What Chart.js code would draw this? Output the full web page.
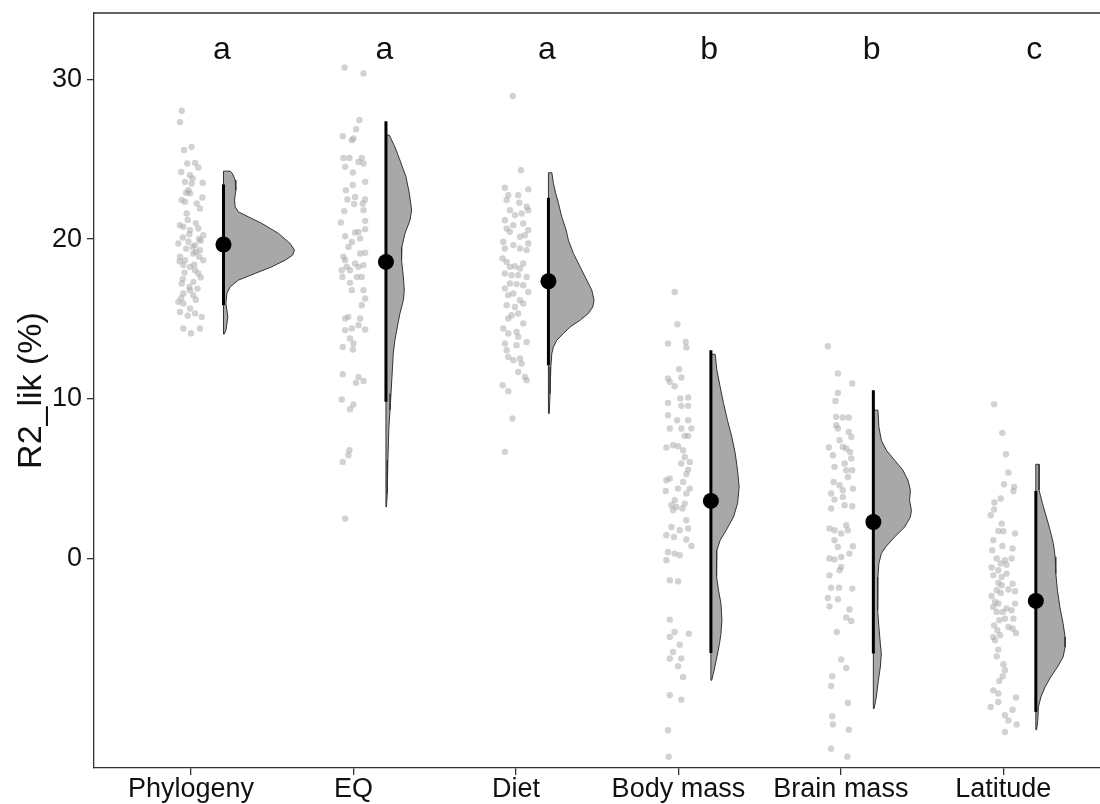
<!DOCTYPE html>
<html>
<head>
<meta charset="utf-8">
<script src="https://cdn.jsdelivr.net/npm/chart.js@4.4.0/dist/chart.umd.min.js"></script>
<style>
  body { margin: 0; background: #fff; }
  #wrap { width: 1100px; height: 804px; overflow: hidden; }
</style>
</head>
<body>
<div id="wrap"><canvas id="myChart" width="1100" height="804"></canvas></div>
<script>
// categories on the x axis, and the letters drawn above each group
const categories = ['Phylogeny', 'EQ', 'Diet', 'Body mass', 'Brain mass', 'Latitude'];
const letters = ['a', 'a', 'a', 'b', 'b', 'c'];
const yTicks = [0, 10, 20, 30];

// mean and interval per group
const means = [19.66, 18.57, 17.36, 3.61, 2.29, -2.65];
const lower = [15.86, 9.81, 12.10, -5.91, -5.95, -9.60];
const upper = [23.42, 27.38, 22.58, 13.04, 10.54, 4.23];

// raw points: [jitter, value]
const phylogenyPts = [[-.057,28.03],[-.068,27.32],[-.043,25.57],[.004,25.77],[-.023,24.73],[.025,24.77],[.045,24.48],[-.006,24.00],
  [-.037,23.58],[.004,23.48],[.072,23.52],[-.016,23.06],[-.006,22.86],[-.057,22.44],[-.037,22.33],[.035,22.23],[.055,21.92],
  [-.027,21.60],[-.068,20.87],[-.047,20.77],[-.006,20.56],[.045,20.66],[.076,20.24],[-.078,19.72],[-.016,19.83],[.025,19.62],
  [.055,19.31],[.014,19.10],[-.068,18.89],[-.037,18.68],[.076,18.68],[-.006,18.26],[.025,18.05],[-.047,18.37],[.045,17.85],
  [.014,17.32],[-.057,17.22],[-.006,16.80],[-.047,16.59],[.014,16.49],[-.078,16.07],[-.047,15.97],[-.006,15.65],[-.068,15.44],
  [.025,15.34],[.066,15.13],[-.047,14.40],[.055,14.40],[-.02,21.2],[.03,21.0],[-.05,20.1],[.06,19.9],[-.03,19.4],[.01,19.5],
  [.05,18.9],[-.07,18.6],[.02,18.4],[-.04,17.9],[.06,17.6],[-.01,17.0],[.04,16.9],[-.06,16.3],[.03,16.2],[-.02,15.2],
  [.07,22.6],[-.03,22.9],[.01,23.8],[-.06,24.2],[.05,20.0],[-.01,20.3],[.03,19.2],[-.05,17.5],[0,14.1]];
const eqPts = [[-.055,30.74],[.062,30.37],[.037,27.45],[.016,26.88],[-.066,26.44],[-.010,26.19],[0,26.30],[-.062,25.08],
  [-.025,25.08],[.051,25.08],[-.051,24.52],[.031,24.83],[.062,24.73],[-.004,24.17],[.072,23.58],[-.004,23.38],[-.047,23.06],
  [-.037,22.48],[.010,22.64],[.004,22.19],[.057,22.23],[.072,22.48],[-.057,21.75],[.062,21.81],[-.078,21.04],[.072,21.14],
  [.010,20.41],[.031,20.45],[.072,20.62],[-.051,20.18],[.041,20.04],[-.010,19.82],[-.031,19.51],[-.062,18.89],[-.051,18.68],
  [.072,19.14],[.041,19.10],[.010,18.47],[-.041,18.26],[-.072,18.05],[-.021,18.05],[.031,18.26],[.062,18.37],[.051,17.63],
  [.021,17.63],[-.068,17.63],[-.021,17.26],[-.010,16.80],[.062,16.80],[.072,16.28],[.051,15.86],[-.051,15.03],[-.031,15.13],
  [.041,15.03],[.031,14.61],[-.010,14.40],[-.051,14.30],[.072,14.34],[-.021,13.78],[0,13.46],[-.004,13.09],[-.066,13.25],
  [-.066,11.54],[.031,11.37],[.062,11.12],[.016,11.00],[-.072,9.96],[0,9.64],[-.021,9.35],[-.025,6.78],[-.031,6.47],
  [-.066,6.05],[-.051,2.50]];
const dietPts = [[-.02,28.95],[.031,24.31],[-.068,23.21],[.076,23.11],[-.047,22.75],[.014,22.75],[-.057,22.44],[.021,22.27],
  [.066,22.02],[.076,21.81],[-.037,21.81],[-.006,21.50],[.035,21.60],[-.068,21.18],[-.057,20.66],[-.016,20.87],[.045,20.98],
  [.076,20.56],[-.037,20.45],[.025,20.14],[.055,20.24],[-.078,19.83],[-.068,19.41],[-.016,19.62],[.025,19.41],[.076,19.72],
  [.066,19.31],[-.082,18.79],[-.057,18.57],[-.037,18.26],[-.006,18.30],[.025,18.16],[.045,18.47],[-.068,17.85],[-.027,17.74],
  [.014,17.74],[.066,17.63],[-.037,17.22],[.004,17.18],[.045,17.11],[-.068,16.91],[-.047,16.49],[-.016,16.59],[.076,16.69],
  [.025,16.17],[-.057,15.86],[-.006,15.75],[.045,15.97],[-.027,15.23],[-.047,15.03],[.014,15.34],[.045,14.72],[-.078,14.40],
  [-.047,14.09],[.004,14.19],[.014,13.88],[.066,13.56],[-.068,13.46],[-.057,13.04],[.004,13.36],[-.047,12.62],[-.016,12.42],
  [.025,12.52],[.035,12.21],[.014,11.68],[.055,11.37],[.066,11.16],[-.082,10.85],[-.047,10.48],[-.021,8.77],[-.068,6.68]];
const bodyPts = [[-.023,16.69],[-.006,14.67],[-.064,13.46],[.045,13.56],[.049,13.21],[.004,11.85],[-.064,11.27],[.018,11.33],
  [-.023,10.79],[-.053,11.06],[-.064,9.74],[.012,10.02],[.060,10.08],[.060,9.56],[.018,9.56],[-.064,8.97],[-.008,8.66],
  [-.053,8.14],[.018,8.14],[.060,8.66],[.080,8.14],[.039,7.68],[.060,7.68],[-.074,6.95],[-.033,7.09],[-.002,7.03],[.029,6.78],
  [.039,6.36],[.018,5.95],[.070,6.05],[.060,5.57],[.049,5.28],[-.074,4.90],[-.053,5.01],[.029,4.80],[-.002,4.38],[.070,4.38],
  [-.078,4.23],[-.023,3.65],[.049,4.07],[-.012,3.23],[-.043,3.34],[-.033,3.02],[.039,3.44],[.025,3.13],[.049,2.40],[-.043,1.98],
  [.008,1.77],[.060,1.88],[-.074,1.46],[-.027,1.35],[.049,1.19],[.080,0.79],[-.064,0.41],[-.023,0.31],[.008,0.21],[-.074,-0.11],
  [-.053,-1.36],[-.002,-1.42],[-.053,-3.82],[-.023,-4.60],[.064,-4.70],[-.053,-4.91],[.008,-5.39],[-.033,-5.85],[-.053,-6.26],
  [.018,-6.26],[-.002,-6.74],[.029,-7.41],[-.053,-8.56],[.018,-8.83],[-.064,-10.75],[-.06,-12.4]];
const brainPts = [[-.080,13.29],[-.018,11.58],[.070,10.96],[-.018,10.37],[-.033,9.87],[-.029,8.87],[.012,8.83],[.049,8.83],
  [-.029,8.35],[-.018,8.14],[.049,7.93],[.064,7.61],[-.008,7.41],[-.074,6.95],[-.049,6.47],[.012,6.99],[.033,6.89],[.057,6.67],
  [-.039,5.74],[.023,5.95],[.064,6.26],[.033,5.53],[.070,5.53],[.043,5.11],[-.045,4.80],[-.008,4.59],[.012,4.28],[.074,4.38],
  [-.060,4.07],[-.039,3.69],[.012,3.86],[-.060,3.13],[.023,3.34],[.070,3.27],[-.070,1.88],[-.039,1.77],[.002,1.57],[.043,1.77],
  [.033,2.09],[-.039,1.15],[-.018,0.73],[.074,0.77],[-.070,0],[.002,0.10],[-.039,-0.06],[.053,0.31],[-.070,-1.05],[.002,-0.53],
  [-.008,-0.73],[-.060,-1.82],[-.012,-1.82],[.070,-1.88],[-.080,-2.47],[-.018,-2.55],[-.070,-2.99],[.053,-3.19],[.033,-3.69],
  [.064,-3.91],[-.025,-4.60],[.002,-6.32],[.033,-6.85],[-.053,-7.37],[-.060,-7.98],[.043,-9.04],[-.053,-9.87],[-.049,-10.38],
  [.049,-10.71],[-.06,-11.9],[.04,-12.4]];
const latitudePts = [[-.057,9.66],[-.006,7.87],[.016,6.53],[.031,5.39],[.004,4.65],[.066,4.48],[.062,4.21],[-.016,3.76],
  [-.055,3.51],[-.057,3.07],[-.078,2.71],[-.010,2.19],[-.031,1.73],[0,1.71],[.072,1.57],[-.062,1.15],[-.006,0.79],[.057,0.63],
  [-.068,0.52],[-.041,0],[.010,-0.11],[-.016,-0.31],[.051,0],[-.072,-0.56],[-.031,-0.73],[.020,-0.38],[-.062,-1.05],[-.010,-1.15],
  [.020,-0.94],[-.031,-1.53],[-.010,-1.67],[.057,-1.57],[-.072,-2.34],[-.041,-1.98],[.031,-1.94],[.072,-2.05],[-.016,-2.15],
  [-.051,-2.72],[-.031,-2.82],[.072,-2.82],[.020,-3.13],[.051,-3.24],[-.041,-3.34],[-.062,-3.03],[-.004,-3.34],[.062,-3.76],
  [.010,-3.76],[-.025,-3.86],[-.057,-4.18],[.031,-4.28],[.057,-4.38],[-.037,-4.49],[-.062,-4.91],[-.020,-4.80],[.078,-4.66],
  [-.051,-5.12],[-.031,-5.70],[-.041,-6.12],[0,-6.62],[.010,-6.99],[-.004,-7.37],[-.025,-7.66],[-.062,-8.25],[-.031,-8.45],
  [-.031,-8.98],[.078,-8.70],[-.078,-9.29],[.057,-9.46],[.010,-9.81],[.031,-10.13],[.082,-10.39],[.010,-10.86]];

// half-violin outlines: [value, half width]
const phylogenyViolin = [[24.25,.041],[24.11,.055],[23.69,.072],[23.06,.076],[22.44,.068],[22.02,.072],[21.70,.092],[21.39,.154],
  [20.98,.236],[20.35,.339],[19.72,.410],[19.31,.437],[18.99,.425],[18.68,.380],[18.26,.297],[17.85,.195],[17.43,.092],
  [17.01,.041],[16.59,.021],[15.97,.015],[15.13,.027],[14.30,.015],[14.05,.005]];
const eqViolin = [[26.51,.020],[25.77,.055],[24.94,.086],[23.90,.123],[22.86,.144],[21.81,.158],[21.18,.148],[20.35,.117],
  [19.51,.098],[18.68,.096],[17.63,.107],[16.80,.113],[16.17,.107],[15.34,.086],[14.50,.070],[13.67,.055],[12.84,.045],
  [11.37,.037],[10.33,.031],[9.29,.025],[8.24,.018],[6.16,.012],[4.07,.008],[3.23,.003]];
const dietViolin = [[24.15,.021],[23.48,.031],[22.86,.045],[22.23,.062],[21.39,.082],[20.56,.109],[19.93,.123],[19.10,.154],
  [18.26,.195],[17.43,.236],[16.80,.267],[16.17,.281],[15.75,.273],[15.34,.246],[14.92,.195],[14.50,.134],[14.09,.092],
  [13.67,.052],[13.25,.031],[12.84,.021],[12.00,.015],[10.33,.010],[9.08,.005]];
const bodyViolin = [[12.79,.026],[11.79,.037],[10.75,.057],[9.71,.078],[8.66,.102],[7.61,.129],[6.57,.150],[5.53,.164],
  [4.48,.174],[3.44,.164],[2.60,.139],[1.77,.094],[1.15,.057],[0.52,.037],[-0.11,.033],[-1.15,.037],[-1.98,.047],[-2.82,.062],
  [-3.86,.068],[-4.70,.062],[-5.32,.053],[-6.16,.037],[-6.99,.020],[-7.62,.005]];
const brainViolin = [[9.29,.028],[8.24,.034],[7.41,.049],[6.78,.080],[6.16,.131],[5.53,.182],[4.90,.213],[4.28,.228],
  [3.65,.223],[3.02,.234],[2.60,.228],[1.98,.193],[1.35,.131],[0.73,.076],[0.31,.049],[-0.31,.034],[-1.15,.028],[-2.19,.025],
  [-3.24,.028],[-4.28,.034],[-5.32,.043],[-5.95,.049],[-6.79,.043],[-7.62,.031],[-8.67,.018],[-9.39,.005]];
const latitudeViolin = [[5.90,.020],[5.11,.020],[4.28,.020],[3.44,.041],[2.60,.065],[1.77,.088],[0.94,.108],[0.10,.119],
  [-0.94,.123],[-1.98,.133],[-3.03,.148],[-4.07,.168],[-4.91,.180],[-5.54,.180],[-6.16,.168],[-6.79,.133],[-7.41,.092],
  [-8.04,.057],[-8.67,.031],[-9.29,.016],[-10.13,.012],[-10.71,.005]];

const allPts = [phylogenyPts, eqPts, dietPts, bodyPts, brainPts, latitudePts];
const allViolins = [phylogenyViolin, eqViolin, dietViolin, bodyViolin, brainViolin, latitudeViolin];

const nudge = 0.2;       // cloud, mean and interval sit right of the tick
const letterShift = 0.19;
const letterY = 31.25;
const FONT = '"Liberation Sans", Arial, Helvetica, sans-serif';

// build datasets
let datasets = [];

let rain = [];
allPts.forEach(function (pts, i) {
  pts.forEach(p => rain.push({ x: i + 1 + p[0], y: p[1] }));
});
datasets.push({
  type: 'scatter',
  data: rain,
  pointRadius: 3.2,
  pointBackgroundColor: 'rgba(165,165,165,0.5)',
  pointBorderWidth: 0,
  order: 4
});

allViolins.forEach(function (v, i) {
  const base = i + 1 + nudge;
  let shape = [{ x: base, y: v[0][0] }];
  v.forEach(d => shape.push({ x: base + d[1], y: d[0] }));
  shape.push({ x: base, y: v[v.length - 1][0] });
  shape.push({ x: base, y: v[0][0] });
  datasets.push({
    type: 'line',
    data: shape,
    borderColor: '#333',
    borderWidth: 1,
    backgroundColor: '#a8a8a8',
    fill: 'shape',
    pointRadius: 0,
    tension: 0,
    order: 3
  });
});

for (let i = 0; i < categories.length; i++) {
  datasets.push({
    type: 'line',
    data: [{ x: i + 1 + nudge, y: lower[i] }, { x: i + 1 + nudge, y: upper[i] }],
    borderColor: '#000',
    borderWidth: 3,
    pointRadius: 0,
    fill: false,
    order: 2
  });
}

datasets.push({
  type: 'scatter',
  data: means.map((m, i) => ({ x: i + 1 + nudge, y: m })),
  pointRadius: 8,
  pointBackgroundColor: '#000',
  pointBorderWidth: 0,
  order: 1
});

const lettersPlugin = {
  id: 'letters',
  afterDatasetsDraw(chart) {
    const { ctx, scales: { x, y }, chartArea } = chart;
    ctx.save();
    ctx.font = '32px ' + FONT;
    ctx.fillStyle = '#111';
    ctx.textAlign = 'center';
    ctx.textBaseline = 'alphabetic';
    letters.forEach((t, i) => ctx.fillText(t, x.getPixelForValue(i + 1 + letterShift), y.getPixelForValue(letterY)));
    // top edge of the panel box
    ctx.strokeStyle = '#333';
    ctx.lineWidth = 1.3;
    ctx.beginPath();
    ctx.moveTo(chartArea.left, chartArea.top);
    ctx.lineTo(chartArea.right, chartArea.top);
    ctx.stroke();
    ctx.restore();
  }
};

const ctx = document.getElementById('myChart').getContext('2d');
const myChart = new Chart(ctx, {
  type: 'scatter',
  data: { datasets: datasets },
  plugins: [lettersPlugin],
  options: {
    responsive: false,
    animation: false,
    layout: { autoPadding: false, padding: { top: 13, left: 0, right: 0, bottom: 0 } },
    plugins: { legend: { display: false }, tooltip: { enabled: false } },
    scales: {
      x: {
        type: 'linear',
        min: 0.403,
        max: 6.595,
        afterBuildTicks: s => { s.ticks = categories.map((c, i) => ({ value: i + 1 })); },
        afterFit: s => { s.height = 36; s.paddingLeft = 0; s.paddingRight = 0; },
        ticks: {
          callback: v => categories[v - 1],
          font: { family: FONT, size: 27, lineHeight: 1 },
          color: '#111',
          padding: 1,
          maxRotation: 0,
          autoSkip: false
        },
        grid: { drawOnChartArea: false, tickLength: 7, color: '#333', lineWidth: 1.3 },
        border: { display: true, color: '#333', width: 1.3 }
      },
      y: {
        min: -13.11,
        max: 34.15,
        afterBuildTicks: s => { s.ticks = yTicks.map(v => ({ value: v })); },
        afterFit: s => { s.width = 94; s.paddingTop = 0; s.paddingBottom = 0; },
        ticks: {
          font: { family: FONT, size: 27 },
          color: '#111',
          padding: 5
        },
        grid: { drawOnChartArea: false, tickLength: 7, color: '#333', lineWidth: 1.3 },
        border: { display: true, color: '#333', width: 1.3 },
        title: {
          display: true,
          text: 'R2_lik (%)',
          font: { family: FONT, size: 34 },
          color: '#111',
          padding: { top: 11, bottom: 0 }
        }
      }
    }
  }
});
</script>
</body>
</html>
